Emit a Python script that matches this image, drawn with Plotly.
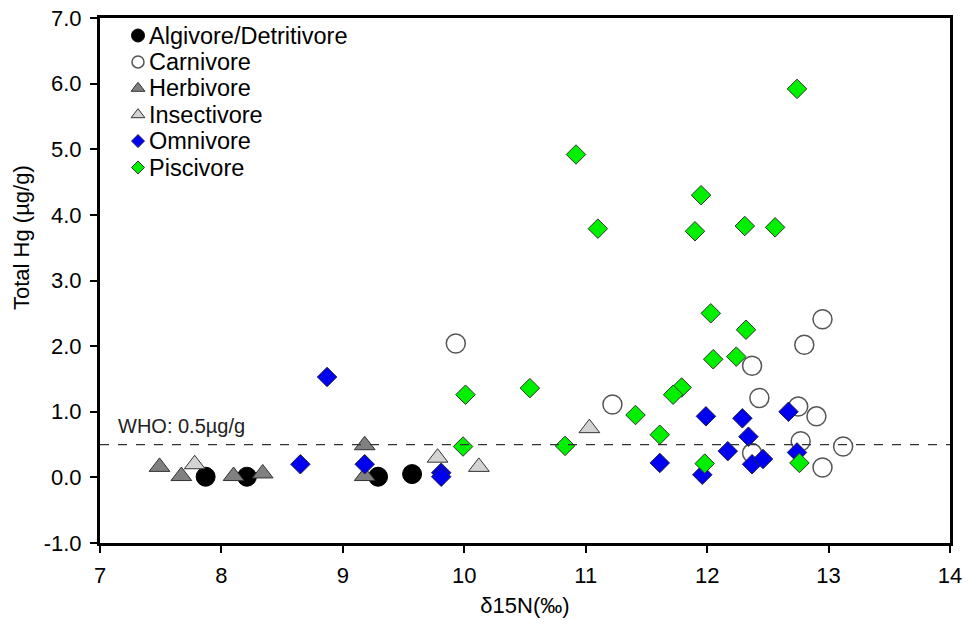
import plotly.graph_objects as go

# ---------------- data ----------------
categories = ["Algivore/Detritivore", "Carnivore", "Herbivore",
              "Insectivore", "Omnivore", "Piscivore"]

algivore_x = [7.87, 8.21, 9.29, 9.57]
algivore_y = [0.01, 0.01, 0.01, 0.05]

carnivore_x = [9.93, 12.95, 12.80, 12.37, 12.43, 11.22, 12.75, 12.90, 12.77, 13.12, 12.37, 12.95]
carnivore_y = [2.04, 2.41, 2.02, 1.70, 1.21, 1.11, 1.08, 0.93, 0.55, 0.47, 0.37, 0.15]

herbivore_x = [7.49, 7.67, 8.10, 8.34, 9.18, 9.18]
herbivore_y = [0.16, 0.02, 0.02, 0.06, 0.49, 0.02]

insectivore_x = [7.78, 9.78, 10.12, 11.03]
insectivore_y = [0.20, 0.30, 0.16, 0.75]

omnivore_x = [8.65, 9.18, 9.81, 9.81, 8.87, 11.99, 12.29, 12.67, 12.34, 11.61,
              12.17, 12.37, 12.46, 12.74, 11.96]
omnivore_y = [0.20, 0.20, 0.07, 0.01, 1.53, 0.93, 0.90, 1.00, 0.62, 0.22,
              0.40, 0.20, 0.28, 0.38, 0.04]

piscivore_x = [12.74, 10.92, 11.95, 11.10, 11.90, 12.31, 12.56, 12.03, 12.32, 12.05,
               12.24, 10.54, 11.79, 11.72, 11.41, 11.61, 10.83, 11.98, 12.76, 10.01, 9.99]
piscivore_y = [5.92, 4.92, 4.30, 3.79, 3.75, 3.83, 3.81, 2.50, 2.25, 1.80,
               1.84, 1.36, 1.37, 1.26, 0.95, 0.65, 0.48, 0.21, 0.22, 1.26, 0.47]

who_limit = 0.5
who_label = "WHO: 0.5µg/g"

x_ticks = [7, 8, 9, 10, 11, 12, 13, 14]
y_ticks = [-1.0, 0.0, 1.0, 2.0, 3.0, 4.0, 5.0, 6.0, 7.0]

# ---------------- styles ----------------
FONT = "Arial, Liberation Sans, sans-serif"
styles = {
    "Algivore/Detritivore": dict(symbol="circle", size=19, color="#000000",
                                 line=dict(color="#000000", width=1), lsize=13),
    "Carnivore": dict(symbol="circle", size=19, color="#ffffff",
                      line=dict(color="#555555", width=1.5), lsize=12),
    "Herbivore": dict(symbol="triangle-up", size=18, color="#808080",
                      line=dict(color="#333333", width=1), lsize=12),
    "Insectivore": dict(symbol="triangle-up", size=18, color="#d3d3d3",
                        line=dict(color="#333333", width=1), lsize=12),
    "Omnivore": dict(symbol="diamond", size=15, color="#0000f0",
                     line=dict(color="#222244", width=1), lsize=10),
    "Piscivore": dict(symbol="diamond", size=15, color="#00f000",
                      line=dict(color="#333333", width=1), lsize=10),
}
series = {
    "Algivore/Detritivore": (algivore_x, algivore_y),
    "Carnivore": (carnivore_x, carnivore_y),
    "Herbivore": (herbivore_x, herbivore_y),
    "Insectivore": (insectivore_x, insectivore_y),
    "Omnivore": (omnivore_x, omnivore_y),
    "Piscivore": (piscivore_x, piscivore_y),
}

fig = go.Figure()

for name in categories:
    xs, ys = series[name]
    st = styles[name]
    fig.add_trace(go.Scatter(
        x=xs, y=ys, mode="markers", name=name, showlegend=False,
        marker=dict(symbol=st["symbol"], size=st["size"], color=st["color"],
                    line=st["line"]),
    ))

# ---------------- custom legend (inside plot, top-left) ----------------
plot_left, plot_right, plot_top, plot_bottom = 100, 950, 18, 543
pw, ph = plot_right - plot_left, plot_bottom - plot_top
leg_marker_px = 138
leg_text_px = 147
leg_row0 = 35.5
leg_step = 26.4
for i, name in enumerate(categories):
    st = styles[name]
    py = leg_row0 + i * leg_step
    yv = (plot_bottom - py) / ph
    fig.add_trace(go.Scatter(
        x=[(leg_marker_px - plot_left) / pw], y=[yv], xaxis="x2", yaxis="y2",
        mode="markers", showlegend=False, hoverinfo="skip",
        marker=dict(symbol=st["symbol"], size=st["lsize"], color=st["color"],
                    line=st["line"]),
    ))
    fig.add_annotation(x=(leg_text_px - plot_left) / pw, y=yv, xref="paper", yref="paper",
                       text=name, showarrow=False, xanchor="left", yanchor="middle",
                       font=dict(family=FONT, size=23.5, color="#000000"))

# ---------------- WHO line ----------------
fig.add_shape(type="line", xref="x", yref="y", x0=x_ticks[0], x1=x_ticks[-1],
              y0=who_limit, y1=who_limit,
              line=dict(color="#333333", width=1.2, dash="dash"))
fig.add_annotation(x=7.13, y=who_limit, xref="x", yref="y", text=who_label,
                   showarrow=False, xanchor="left", yanchor="bottom", yshift=6,
                   font=dict(family=FONT, size=20, color="#222222"))

# ---------------- y-axis title (placed as in the reference) ----------------
fig.add_annotation(x=(22 - plot_left) / pw, y=(plot_bottom - 238) / ph,
                   xref="paper", yref="paper", text="Total Hg (µg/g)", textangle=-90,
                   showarrow=False, xanchor="center", yanchor="middle",
                   font=dict(family=FONT, size=22, color="#000000"))

axis_common = dict(showgrid=False, zeroline=False, showline=True, linecolor="#000000",
                   linewidth=3, mirror=True, ticks="outside", ticklen=7, tickwidth=1.5,
                   tickcolor="#000000", automargin=False, ticklabelstandoff=4,
                   tickfont=dict(family=FONT, size=22, color="#000000"))

fig.update_layout(
    width=976, height=629,
    margin=dict(l=plot_left, r=976 - plot_right, t=plot_top, b=629 - plot_bottom),
    plot_bgcolor="#ffffff", paper_bgcolor="#ffffff",
    showlegend=False,
    xaxis=dict(range=[x_ticks[0], x_ticks[-1]], tickvals=x_ticks,
               ticktext=[str(v) for v in x_ticks],
               title=dict(text="δ15N(‰)", font=dict(family=FONT, size=22, color="#000000"),
                          standoff=11),
               **axis_common),
    yaxis=dict(range=[y_ticks[0], y_ticks[-1]], tickvals=y_ticks,
               ticktext=[f"{v:.1f}" for v in y_ticks],
               **axis_common),
    xaxis2=dict(overlaying="x", range=[0, 1], visible=False, fixedrange=True),
    yaxis2=dict(overlaying="y", range=[0, 1], visible=False, fixedrange=True),
)

fig.write_html("out.html", config={"displayModeBar": False},
               post_script="document.body.style.margin='0';document.body.style.overflow='hidden';")
